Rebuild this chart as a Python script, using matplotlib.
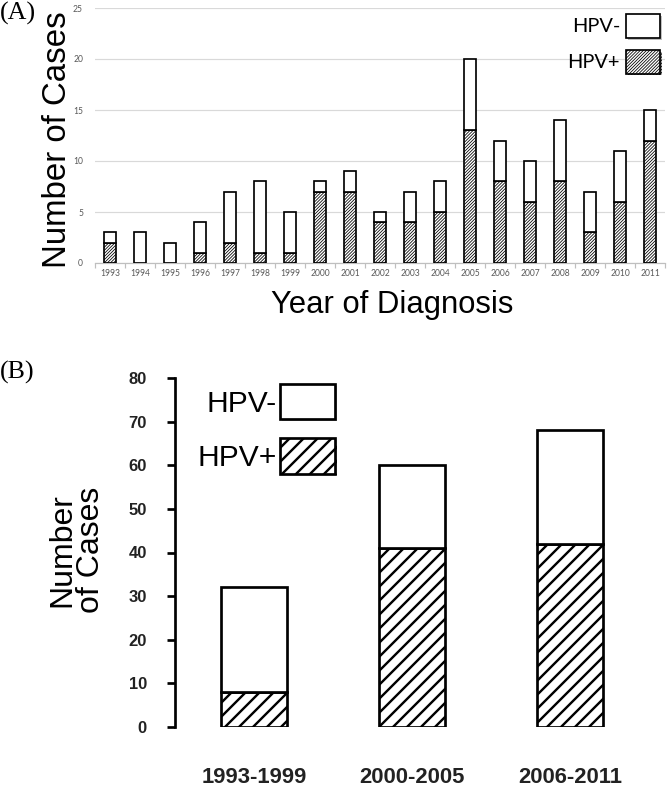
import matplotlib
matplotlib.use("Agg")
import matplotlib.pyplot as plt
import numpy as np
from matplotlib.patches import Patch
from matplotlib import patheffects as pe

DPI = 84
W, H = 668, 798

# panel A: cases per year of diagnosis
years = [str(y) for y in range(1993, 2012)]
hpv_pos_year = [2, 0, 0, 1, 2, 1, 1, 7, 7, 4, 4, 5, 13, 8, 6, 8, 3, 6, 12]
total_year = [3, 3, 2, 4, 7, 8, 5, 8, 9, 5, 7, 8, 20, 12, 10, 14, 7, 11, 15]

# panel B: cases per period
periods = ["1993-1999", "2000-2005", "2006-2011"]
hpv_pos_period = [8, 41, 42]
total_period = [32, 60, 68]


def px(v):
    # pixels -> points at the output dpi
    return v * 72 / DPI


def set_hatch_lw(patches, lw):
    for p in patches:
        if hasattr(p, "set_hatch_linewidth"):
            p.set_hatch_linewidth(lw)


def shadow(patches):
    for p in patches:
        p.set_path_effects([pe.SimplePatchShadow(offset=(1.5, -1.5), alpha=0.35),
                            pe.Normal()])


plt.rcParams["font.family"] = ["Liberation Sans", "DejaVu Sans"]
fig = plt.figure(figsize=(W / DPI, H / DPI), dpi=DPI)

# ---------------- panel A ----------------
HATCH_A = "/" * 9
axA = fig.add_axes([95 / W, 1 - 263 / H, 570 / W, 255 / H])
x = np.arange(len(years))
pos = np.array(hpv_pos_year)
neg = np.array(total_year) - pos
bA1 = axA.bar(x, pos, width=0.43, color="white", edgecolor="black",
              lw=px(1.7), hatch=HATCH_A, zorder=3)
bA2 = axA.bar(x, neg, bottom=pos, width=0.43, color="white", edgecolor="black",
              lw=px(1.7), zorder=3)
set_hatch_lw(bA1, px(0.8))

axA.set_xlim(-0.5, len(years) - 0.5)
axA.set_ylim(0, 25)
axA.set_yticks(range(0, 26, 5))
axA.yaxis.grid(True, color="#d9d9d9", lw=px(1.2))
axA.set_axisbelow(True)
for s in ["top", "right", "left"]:
    axA.spines[s].set_visible(False)
axA.spines["bottom"].set_color("#bfbfbf")
axA.spines["bottom"].set_linewidth(px(1.2))
axA.set_xticks(x)
axA.set_xticklabels(years, fontsize=px(8.5), color="#595959", family="Lato")
axA.set_xticks(np.arange(-0.5, len(years), 1), minor=True)
axA.tick_params(axis="x", which="major", length=0, pad=px(6))
axA.tick_params(axis="x", which="minor", length=px(5), color="#bfbfbf",
                width=px(1.2))
axA.tick_params(axis="y", length=0, pad=px(12), labelsize=px(8.5),
                labelcolor="#595959")
for t in axA.get_yticklabels():
    t.set_family("Lato")

axA.set_ylabel("Number of Cases", fontsize=px(33), va="center")
axA.yaxis.set_label_coords((57 - 95) / 570, (263 - 140) / 255)
axA.set_xlabel("Year of Diagnosis", fontsize=px(31), va="center")
axA.xaxis.set_label_coords((392 - 95) / 570, (263 - 305) / 255)

hA = [Patch(facecolor="white", edgecolor="black", lw=px(1.7), label="HPV-"),
      Patch(facecolor="white", edgecolor="black", lw=px(1.7), hatch=HATCH_A,
            label="HPV+")]
legA = axA.legend(handles=hA, loc="upper right",
                  bbox_to_anchor=(660 / W, 1 - 14 / H),
                  bbox_transform=fig.transFigure, frameon=False,
                  markerfirst=False, prop={"family": "Lato", "size": px(20)},
                  handlelength=34 / 20, handleheight=29 / 20,
                  handletextpad=0.3, labelspacing=0.6, borderpad=0,
                  borderaxespad=0)
set_hatch_lw(legA.get_patches(), px(0.8))
shadow(legA.get_patches())

# ---------------- panel B ----------------
HATCH_B = "//"
axB = fig.add_axes([175 / W, 1 - 727 / H, 474 / W, 349 / H])
xb = np.arange(len(periods))
posb = np.array(hpv_pos_period)
negb = np.array(total_period) - posb
bB1 = axB.bar(xb, posb, width=0.42, color="white", edgecolor="black",
              lw=px(2.7), hatch=HATCH_B)
bB2 = axB.bar(xb, negb, bottom=posb, width=0.42, color="white",
              edgecolor="black", lw=px(2.7))
set_hatch_lw(bB1, px(2.4))

axB.set_xlim(-0.5, len(periods) - 0.5)
axB.set_ylim(0, 80)
axB.set_yticks(range(0, 81, 10))
for s in ["top", "right", "bottom"]:
    axB.spines[s].set_visible(False)
axB.spines["left"].set_linewidth(px(2.7))
axB.set_xticks(xb)
axB.set_xticklabels(periods, fontsize=px(22), fontweight="bold",
                    color="#222222")
axB.tick_params(axis="x", length=0, pad=px(40))
axB.tick_params(axis="y", length=px(8), width=px(2.7), pad=px(20),
                labelsize=px(16.5), labelcolor="#222222")
for t in axB.get_yticklabels():
    t.set_fontweight("bold")

axB.set_ylabel("Number\nof Cases", fontsize=px(32), va="center",
               linespacing=0.95)
axB.yaxis.set_label_coords((77 - 175) / 474, (727 - 550) / 349)

hB = [Patch(facecolor="white", edgecolor="black", lw=px(2.7), label="HPV-"),
      Patch(facecolor="white", edgecolor="black", lw=px(2.7), hatch=HATCH_B,
            label="HPV+")]
legB = axB.legend(handles=hB, loc="upper right",
                  bbox_to_anchor=(335 / W, 1 - 384 / H),
                  bbox_transform=fig.transFigure, frameon=False,
                  markerfirst=False, fontsize=px(30),
                  handlelength=55 / 30, handleheight=43 / 30,
                  handletextpad=0.1, labelspacing=0.63, borderpad=0,
                  borderaxespad=0)
set_hatch_lw(legB.get_patches(), px(2.4))
shadow(legB.get_patches())

fig.text(0, 1 - 2 / H, "(A)", family="Liberation Serif", fontsize=px(26),
         ha="left", va="top")
fig.text(0, 1 - 361 / H, "(B)", family="Liberation Serif", fontsize=px(26),
         ha="left", va="top")

fig.savefig("out.png", dpi=DPI)
